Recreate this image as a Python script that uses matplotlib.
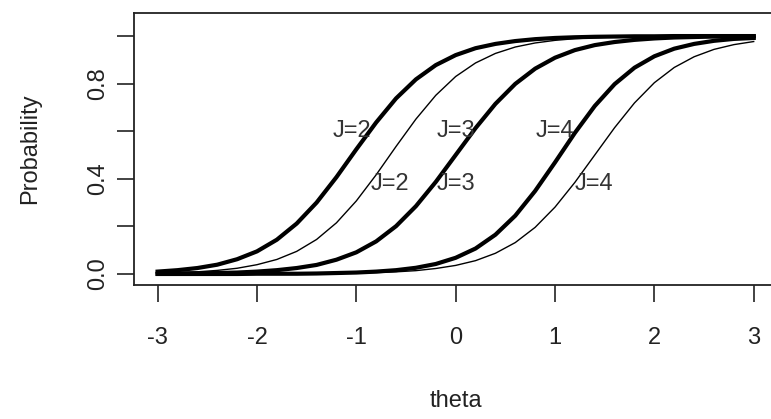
import matplotlib
matplotlib.use('Agg')
import matplotlib.pyplot as plt
import numpy as np

plt.rcParams['font.family'] = ['Liberation Sans', 'DejaVu Sans']

# theta grid and probabilities
theta = [-3.0, -2.8, -2.6, -2.4, -2.2, -2.0, -1.8, -1.6, -1.4, -1.2, -1.0,
         -0.8, -0.6, -0.4, -0.2, 0.0, 0.2, 0.4, 0.6, 0.8, 1.0,
         1.2, 1.4, 1.6, 1.8, 2.0, 2.2, 2.4, 2.6, 2.8, 3.0]

thick_j2 = [0.010, 0.016, 0.025, 0.039, 0.062, 0.095, 0.144, 0.212, 0.300, 0.407, 0.524,
            0.637, 0.738, 0.818, 0.878, 0.920, 0.949, 0.967, 0.979, 0.987, 0.992,
            0.995, 0.997, 0.998, 0.999, 0.999, 1.000, 1.000, 1.000, 1.000, 1.000]
thin_j2 = [0.004, 0.006, 0.009, 0.015, 0.024, 0.039, 0.061, 0.095, 0.145, 0.215, 0.307,
           0.417, 0.536, 0.651, 0.751, 0.830, 0.887, 0.927, 0.954, 0.971, 0.982,
           0.989, 0.993, 0.996, 0.997, 0.998, 0.999, 0.999, 1.000, 1.000, 1.000]
thick_j3 = [0.001, 0.002, 0.003, 0.004, 0.006, 0.010, 0.016, 0.025, 0.038, 0.060, 0.091,
            0.137, 0.201, 0.285, 0.387, 0.500, 0.613, 0.715, 0.799, 0.863, 0.909,
            0.941, 0.962, 0.975, 0.984, 0.990, 0.994, 0.996, 0.998, 0.998, 0.999]
thin_j3 = [0.001, 0.002, 0.003, 0.004, 0.006, 0.010, 0.016, 0.025, 0.038, 0.060, 0.091,
           0.137, 0.201, 0.285, 0.387, 0.500, 0.613, 0.715, 0.799, 0.863, 0.909,
           0.941, 0.962, 0.975, 0.984, 0.990, 0.994, 0.996, 0.998, 0.998, 0.999]
thick_j4 = [0.000, 0.000, 0.000, 0.000, 0.000, 0.001, 0.001, 0.001, 0.002, 0.004, 0.006,
            0.010, 0.016, 0.026, 0.042, 0.068, 0.107, 0.165, 0.245, 0.349, 0.469,
            0.593, 0.706, 0.798, 0.867, 0.915, 0.947, 0.967, 0.980, 0.988, 0.992]
thin_j4 = [0.000, 0.000, 0.000, 0.000, 0.000, 0.000, 0.001, 0.001, 0.001, 0.002, 0.004,
           0.006, 0.009, 0.014, 0.023, 0.036, 0.056, 0.087, 0.132, 0.196, 0.281,
           0.385, 0.500, 0.615, 0.719, 0.804, 0.868, 0.913, 0.944, 0.964, 0.977]

labels = ['J=2', 'J=3', 'J=4']
label_x_thick = [-1.04, 0.0, 1.0]
label_x_thin = [-0.66, 0.0, 1.39]
label_y_thick = 0.6
label_y_thin = 0.38

fig = plt.figure(figsize=(7.71, 4.19), dpi=100)
ax = fig.add_axes([0.1735, 0.320, 0.835, 0.649])

for p in [thick_j2, thick_j3, thick_j4]:
    ax.plot(theta, p, color='black', lw=3.0, solid_joinstyle='round', zorder=2)
for p in [thin_j2, thin_j3, thin_j4]:
    ax.plot(theta, p, color='black', lw=1.0, zorder=3)

for lab, x in zip(labels, label_x_thick):
    ax.text(x, label_y_thick, lab, ha='center', va='center', fontsize=17, color='#333333', zorder=4)
for lab, x in zip(labels, label_x_thin):
    ax.text(x, label_y_thin, lab, ha='center', va='center', fontsize=17, color='#333333', zorder=4)

ax.set_xlim(-3.24, 3.24)
ax.set_ylim(-0.046, 1.097)
ax.set_xticks([-3, -2, -1, 0, 1, 2, 3])
ax.set_xticklabels(['-3', '-2', '-1', '0', '1', '2', '3'])
ax.set_yticks([0.0, 0.2, 0.4, 0.6, 0.8, 1.0])
ax.set_yticklabels(['0.0', '', '0.4', '', '0.8', ''], rotation=90, va='center')

ax.tick_params(direction='out', length=12, width=1.2, color='#222222',
               labelsize=17, labelcolor='#222222')
ax.tick_params(axis='x', pad=18)
ax.tick_params(axis='y', pad=6)
for s in ax.spines.values():
    s.set_linewidth(1.3)
    s.set_color('#222222')

ax.set_xlabel('theta', fontsize=17, color='#222222', labelpad=30)
ax.set_ylabel('Probability', fontsize=17, color='#222222', labelpad=33)

fig.savefig('out.png', dpi=100)
